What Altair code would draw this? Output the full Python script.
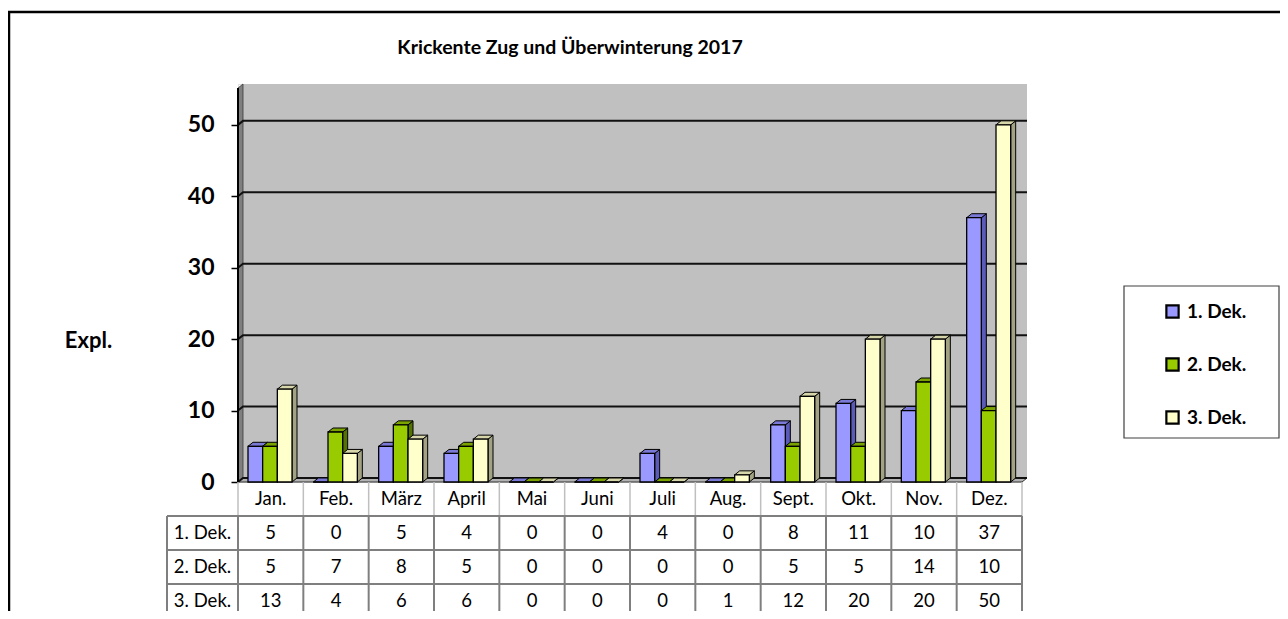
import altair as alt
import pandas as pd

# ---------------- data ----------------
months = ["Jan.", "Feb.", "März", "April", "Mai", "Juni", "Juli", "Aug.",
          "Sept.", "Okt.", "Nov.", "Dez."]
series = ["1. Dek.", "2. Dek.", "3. Dek."]
dek1 = [5, 0, 5, 4, 0, 0, 4, 0, 8, 11, 10, 37]
dek2 = [5, 7, 8, 5, 0, 0, 0, 0, 5, 5, 14, 10]
dek3 = [13, 4, 6, 6, 0, 0, 0, 1, 12, 20, 20, 50]
y_ticks = [0, 10, 20, 30, 40, 50]
title_text = "Krickente Zug und Überwinterung 2017"
y_title = "Expl."

# ---------------- styles ----------------
front_colors = ["#9999FF", "#99CC00", "#FFFFCC"]
side_colors = ["#5A5AB8", "#557300", "#A3A383"]
top_colors = ["#7A7AD6", "#7AA300", "#D6D6AA"]
FONT = "Lato"

# ---------------- layout (data units) ----------------
PLOT_W, PLOT_H = 784, 398
Y_MAX = 55.72
PX_X = PLOT_W / 12.0
PX_Y = PLOT_H / Y_MAX
DX = 5 / PX_X
DY = 4 / PX_Y
BAR_OFF = 10 / PX_X
BAR_W = 14.67 / PX_X
ROW_H = 34 / PX_Y
LABEL_W = 71 / PX_X
TABLE_FS = 18.5

rows = []
for s, vals in enumerate([dek1, dek2, dek3]):
    for i, v in enumerate(vals):
        rows.append({"i": i, "month": months[i], "s": s, "series": series[s], "value": v})
df = pd.DataFrame(rows)
mdf = pd.DataFrame({"i": list(range(12)), "month": months})
sdf = pd.DataFrame({"s": [0, 1, 2], "series": series})
tdf = pd.DataFrame({"v": y_ticks})

XS = alt.Scale(domain=[0, 12], nice=False, zero=False)
YS = alt.Scale(domain=[0, Y_MAX], nice=False, zero=False)
Y_AXIS = alt.Axis(values=y_ticks, grid=False, domain=False, ticks=True, tickSize=7,
                  tickWidth=1.5, tickColor="black", labelFont=FONT, labelFontSize=23,
                  labelFontWeight="bold", labelColor="black", labelPadding=17,
                  title=y_title, titleAngle=0, titleX=-150, titleY=256,
                  titleAlign="center", titleBaseline="middle", titleFont=FONT,
                  titleFontSize=22, titleFontWeight="bold", titleColor="black")


def X(f):
    return alt.X(f, type="quantitative", scale=XS, axis=None, stack=None)


def Y(f):
    return alt.Y(f, type="quantitative", scale=YS, axis=Y_AXIS, stack=None)


one = alt.Data(values=[{"a": 1}])

# back wall
wall = alt.Chart(one).transform_calculate(
    x0=f"{DX}", x1=f"{12 + DX}", y0=f"{DY}", y1=f"{Y_MAX}"
).mark_rect(fill="#C0C0C0").encode(x=X("x0"), x2="x1", y=Y("y0"), y2="y1")

# left side wall
lwall = alt.Chart(one).transform_calculate(k="[0, 1]").transform_flatten(["k"]).transform_calculate(
    lx=f"datum.k * {DX}", ly=f"datum.k * {DY}", ly2=f"{Y_MAX - DY} + datum.k * {DY}"
).mark_area(orient="vertical", fill="#7F7F7F", stroke="#3A3A3A", strokeWidth=0.8, opacity=1).encode(
    x=X("lx"), y=Y("ly"), y2="ly2")

# floor
floor = alt.Chart(one).transform_calculate(k="[0, 1]").transform_flatten(["k"]).transform_calculate(
    fy=f"datum.k * {DY}", fx=f"datum.k * {DX}", fx2=f"12 + datum.k * {DX}"
).mark_area(orient="horizontal", fill="#B2B2B2", stroke="#333333", strokeWidth=1, opacity=1).encode(
    y=Y("fy"), x=X("fx"), x2="fx2")

# gridlines (slanted start on the side wall)
grid = alt.Chart(tdf).transform_calculate(k="[0, 1, 2]").transform_flatten(["k"]).transform_calculate(
    gx=f"datum.k == 0 ? 0 : (datum.k == 1 ? {DX} : {12 + DX})",
    gy=f"datum.v + (datum.k > 0 ? {DY} : 0)",
).mark_line(stroke="#111111", strokeWidth=2).encode(
    x=X("gx"), y=Y("gy"), detail="v:N", order="k:Q")

# y axis line
axis_line = alt.Chart(one).transform_calculate(
    ax="0", ay="0", ay2=f"{Y_MAX - DY}"
).mark_rule(stroke="black", strokeWidth=2).encode(x=X("ax"), y=Y("ay"), y2="ay2")

layers = [wall, lwall, floor, grid]

# side faces of the 3D columns
for s in range(3):
    layers.append(
        alt.Chart(df).transform_filter(alt.datum.s == s)
        .transform_calculate(k="[0, 1]").transform_flatten(["k"])
        .transform_calculate(
            sx=f"datum.i + {BAR_OFF} + (datum.s + 1) * {BAR_W} + datum.k * {DX}",
            sy=f"datum.k * {DY}",
            sy2=f"datum.value + datum.k * {DY}",
        )
        .mark_area(orient="vertical", fill=side_colors[s], opacity=1,
                   stroke="black", strokeWidth=1)
        .encode(x=X("sx"), y=Y("sy"), y2="sy2", detail="i:N")
    )
# top faces of the 3D columns
for s in range(3):
    layers.append(
        alt.Chart(df).transform_filter(alt.datum.s == s)
        .transform_calculate(k="[0, 1]").transform_flatten(["k"])
        .transform_calculate(
            tx=f"datum.i + {BAR_OFF} + datum.s * {BAR_W} + datum.k * {DX}",
            tx2=f"datum.i + {BAR_OFF} + (datum.s + 1) * {BAR_W} + datum.k * {DX}",
            ty=f"datum.value + datum.k * {DY}",
        )
        .mark_area(orient="horizontal", fill=top_colors[s], opacity=1,
                   stroke="black", strokeWidth=1)
        .encode(y=Y("ty"), x=X("tx"), x2="tx2", detail="i:N")
    )

# front faces (with legend)
front = alt.Chart(df).transform_calculate(
    bx=f"datum.i + {BAR_OFF} + datum.s * {BAR_W}",
    bx2=f"datum.i + {BAR_OFF} + (datum.s + 1) * {BAR_W}",
    by="0",
).mark_rect(stroke="black", strokeWidth=1.3).encode(
    x=X("bx"), x2="bx2", y=Y("by"), y2="value:Q",
    color=alt.Color("series:N", scale=alt.Scale(domain=series, range=front_colors),
                    legend=alt.Legend(title=None, orient="none", legendX=925, legendY=218,
                                      symbolType="square", symbolSize=150,
                                      symbolStrokeColor="black", symbolStrokeWidth=2.2,
                                      labelFont=FONT, labelFontSize=19, labelFontWeight="bold",
                                      labelColor="black", labelOffset=5, rowPadding=30)),
)
layers += [front, axis_line]

# ---------------- data table ----------------
vlines_head = alt.Chart(pd.DataFrame({"k": list(range(13))})).transform_calculate(
    y0="0", y1=f"{-ROW_H}"
).mark_rule(stroke="#BFBFBF", strokeWidth=1.5).encode(x=X("k"), y=Y("y0"), y2="y1")

vlines_body = alt.Chart(pd.DataFrame({"k": [-LABEL_W] + list(range(13))})).transform_calculate(
    y0=f"{-ROW_H}", y1=f"{-4.3 * ROW_H}"
).mark_rule(stroke="#7F7F7F", strokeWidth=2).encode(x=X("k"), y=Y("y0"), y2="y1")

hlines = alt.Chart(pd.DataFrame({"r": [1, 2, 3]})).transform_calculate(
    hy=f"-datum.r * {ROW_H}", hx0=f"{-LABEL_W}", hx1="12"
).mark_rule(stroke="#7F7F7F", strokeWidth=2).encode(x=X("hx0"), x2="hx1", y=Y("hy"))

month_text = alt.Chart(mdf).transform_calculate(
    tx="datum.i + 0.5", ty=f"{-ROW_H / 2}"
).mark_text(font=FONT, fontSize=TABLE_FS, color="black", baseline="middle", align="center").encode(
    x=X("tx"), y=Y("ty"), text="month:N")

row_text = alt.Chart(sdf).transform_calculate(
    tx=f"{-LABEL_W / 2}", ty=f"-(datum.s + 1.5) * {ROW_H}"
).mark_text(font=FONT, fontSize=TABLE_FS, color="black", baseline="middle", align="center").encode(
    x=X("tx"), y=Y("ty"), text="series:N")

cell_text = alt.Chart(df).transform_calculate(
    tx="datum.i + 0.5", ty=f"-(datum.s + 1.5) * {ROW_H}"
).mark_text(font=FONT, fontSize=TABLE_FS, color="black", baseline="middle", align="center").encode(
    x=X("tx"), y=Y("ty"), text="value:Q")

layers += [vlines_head, vlines_body, hlines, month_text, row_text, cell_text]

# ---------------- decoration: frame, title and legend box ----------------
legend_box = alt.Chart(one).mark_rect(fill="white", stroke="#404040", strokeWidth=1.2).encode(
    x=alt.value(886), x2=alt.value(1041), y=alt.value(202), y2=alt.value(354))
frame_top = alt.Chart(one).mark_rule(stroke="black", strokeWidth=2.5).encode(
    x=alt.value(-232), x2=alt.value(1045), y=alt.value(-72))
frame_left = alt.Chart(one).mark_rule(stroke="black", strokeWidth=2.5).encode(
    x=alt.value(-229), y=alt.value(-72), y2=alt.value(530))
title_mark = alt.Chart(alt.Data(values=[{"t": title_text}])).mark_text(
    font=FONT, fontSize=19.5, fontWeight="bold", color="black", align="center", baseline="middle"
).encode(x=alt.value(332), y=alt.value(-36), text="t:N")

chart = alt.layer(frame_top, frame_left, legend_box, title_mark, *layers).properties(
    width=PLOT_W, height=PLOT_H,
    autosize=alt.AutoSizeParams(type="none"),
    padding={"left": 230, "top": 76, "right": 258, "bottom": 129},
).configure_view(stroke=None).configure(background="white")

chart.save("out.html", embed_options={"renderer": "svg", "actions": False})
